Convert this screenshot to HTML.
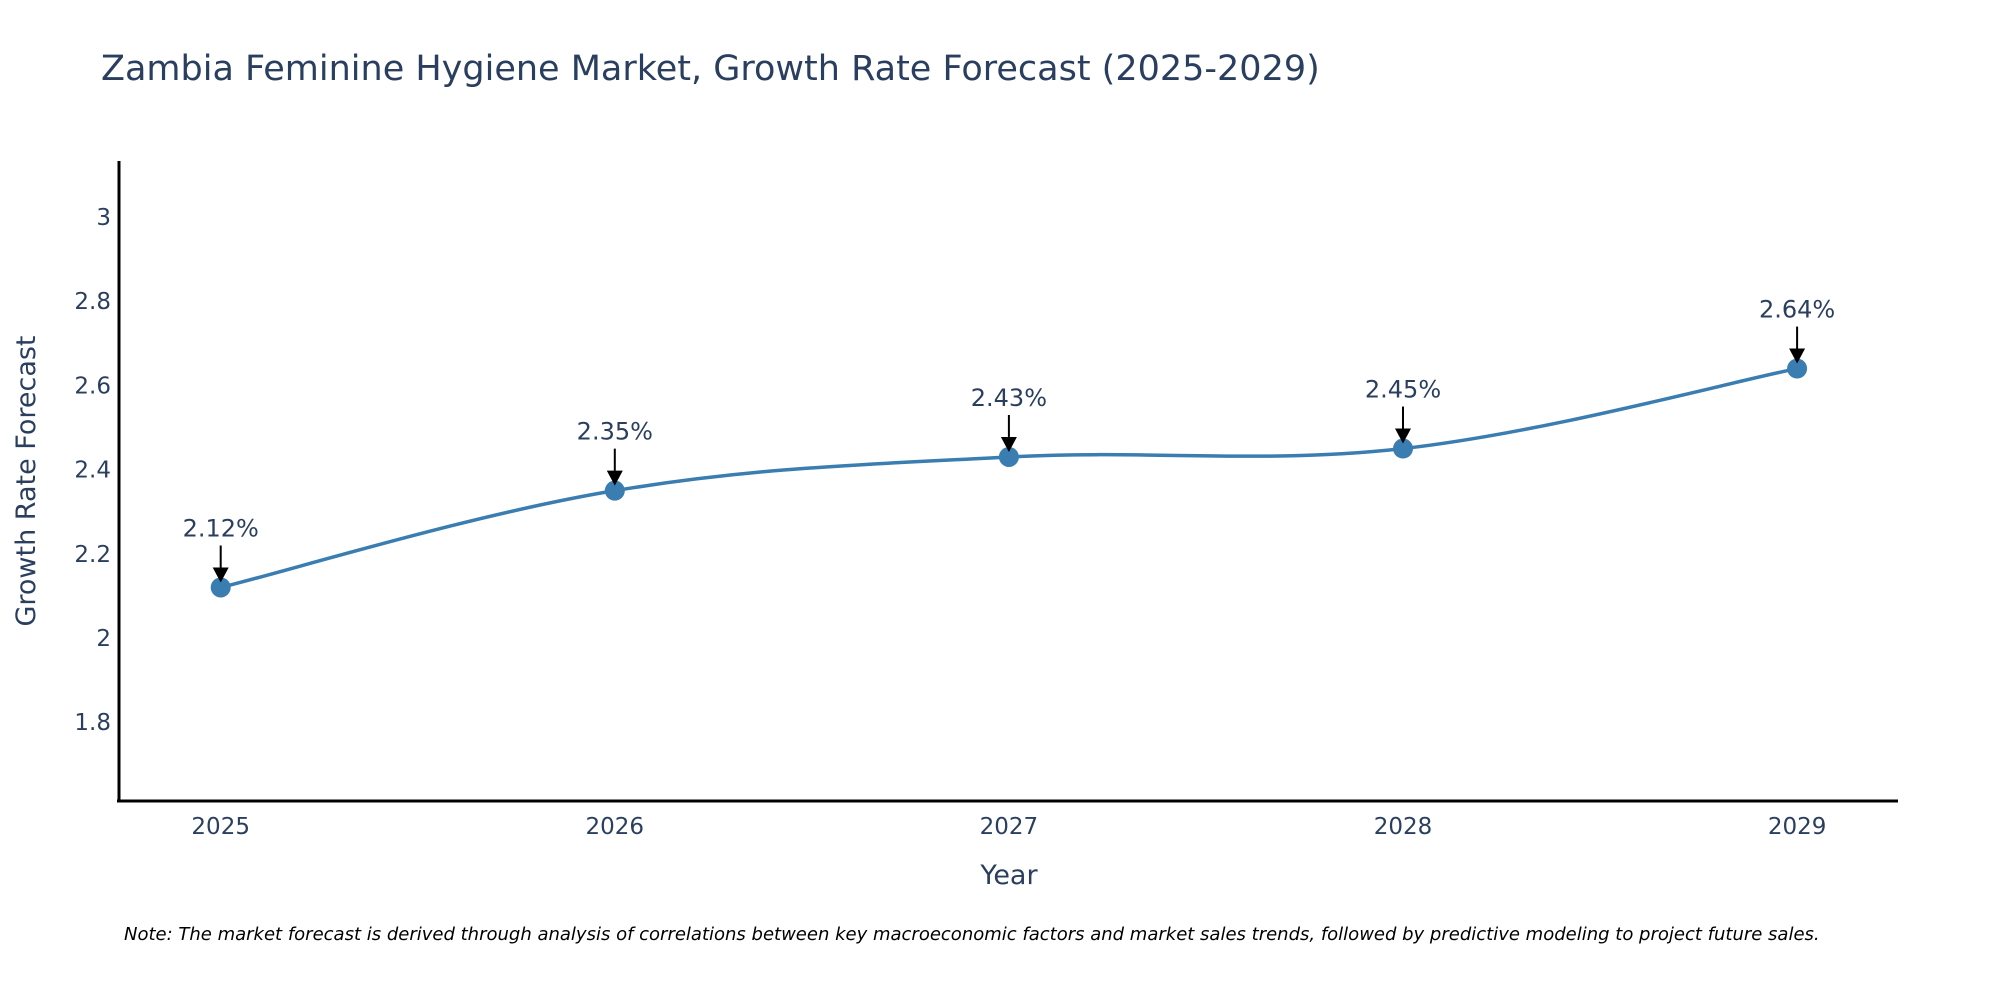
<!DOCTYPE html>
<html><head><meta charset="utf-8"><style>
body{margin:0;background:#fff;}
svg text{font-family:"DejaVu Sans","Liberation Sans",sans-serif;fill:#2a3f5f;}
</style></head><body>
<svg id="chart" width="2000" height="1000" xmlns="http://www.w3.org/2000/svg">
<rect width="2000" height="1000" fill="#fff"/>
<text x="101" y="80" font-size="35">Zambia Feminine Hygiene Market, Growth Rate Forecast (2025-2029)</text>
<g id="yticks"></g><g id="xticks"></g>
<line x1="119" y1="161" x2="119" y2="802" stroke="#000" stroke-width="3"/>
<line x1="117" y1="801" x2="1898" y2="801" stroke="#000" stroke-width="3"/>
<text transform="translate(35,481) rotate(-90)" text-anchor="middle" font-size="27">Growth Rate Forecast</text>
<text x="1009" y="884" text-anchor="middle" font-size="27">Year</text>
<g id="series"></g>
<text x="124" y="940" font-size="18" font-style="italic" style="fill:#000">Note: The market forecast is derived through analysis of correlations between key macroeconomic factors and market sales trends, followed by predictive modeling to project future sales.</text>
</svg>
<script>
const years = [2025, 2026, 2027, 2028, 2029];
const growth = [2.12, 2.35, 2.43, 2.45, 2.64];
const labels = ["2.12%", "2.35%", "2.43%", "2.45%", "2.64%"];
const yTickValues = [1.8, 2, 2.2, 2.4, 2.6, 2.8, 3];
const yTickLabels = ["1.8", "2", "2.2", "2.4", "2.6", "2.8", "3"];

const NS = "http://www.w3.org/2000/svg";
function xs(yr){ return 220.7 + (yr - 2025) * 394.1; }
function ys(v){ return 217 + (3 - v) / 0.2 * 84.2; }
function mk(tag, attrs, parent){ const e = document.createElementNS(NS, tag); for (const k in attrs) e.setAttribute(k, attrs[k]); parent.appendChild(e); return e; }

const yt = document.getElementById('yticks');
yTickValues.forEach((v, i) => {
  const t = mk('text', {x: 111, y: ys(v) + 8, 'text-anchor': 'end', 'font-size': 23}, yt);
  
  
  t.textContent = yTickLabels[i];
});
const xt = document.getElementById('xticks');
years.forEach(yr => {
  const t = mk('text', {x: xs(yr), y: 834, 'text-anchor': 'middle', 'font-size': 23}, xt);
  
  
  t.textContent = String(yr);
});

const g = document.getElementById('series');
const pts = years.map((yr, i) => [xs(yr), ys(growth[i])]);
let d = `M${pts[0][0]},${pts[0][1]}`;
const s = 0.18;
for (let i = 0; i < pts.length - 1; i++) {
  const p0 = pts[Math.max(i - 1, 0)], p1 = pts[i], p2 = pts[i + 1], p3 = pts[Math.min(i + 2, pts.length - 1)];
  const c1 = [p1[0] + (p2[0] - p0[0]) * s, p1[1] + (p2[1] - p0[1]) * s];
  const c2 = [p2[0] - (p3[0] - p1[0]) * s, p2[1] - (p3[1] - p1[1]) * s];
  d += ` C${c1[0]},${c1[1]} ${c2[0]},${c2[1]} ${p2[0]},${p2[1]}`;
}
const line = mk('path', {d: d, fill: 'none', stroke: '#3a7db0', 'stroke-width': 3.5}, g);



pts.forEach((p, i) => {
  const c = mk('circle', {cx: p[0], cy: p[1], r: 10, fill: '#3a7db0'}, g);
  
  
  const a = mk('line', {x1: p[0], y1: p[1] - 42, x2: p[0], y2: p[1] - 20, stroke: '#000', 'stroke-width': 2}, g);
  
  
  const h = mk('polygon', {points: `${p[0]-8},${p[1]-20} ${p[0]+8},${p[1]-20} ${p[0]},${p[1]-5}`, fill: '#000'}, g);
  
  
  const t = mk('text', {x: p[0], y: p[1] - 51, 'text-anchor': 'middle', 'font-size': 24}, g);
  
  
  t.textContent = labels[i];
});
</script>
</body></html>
